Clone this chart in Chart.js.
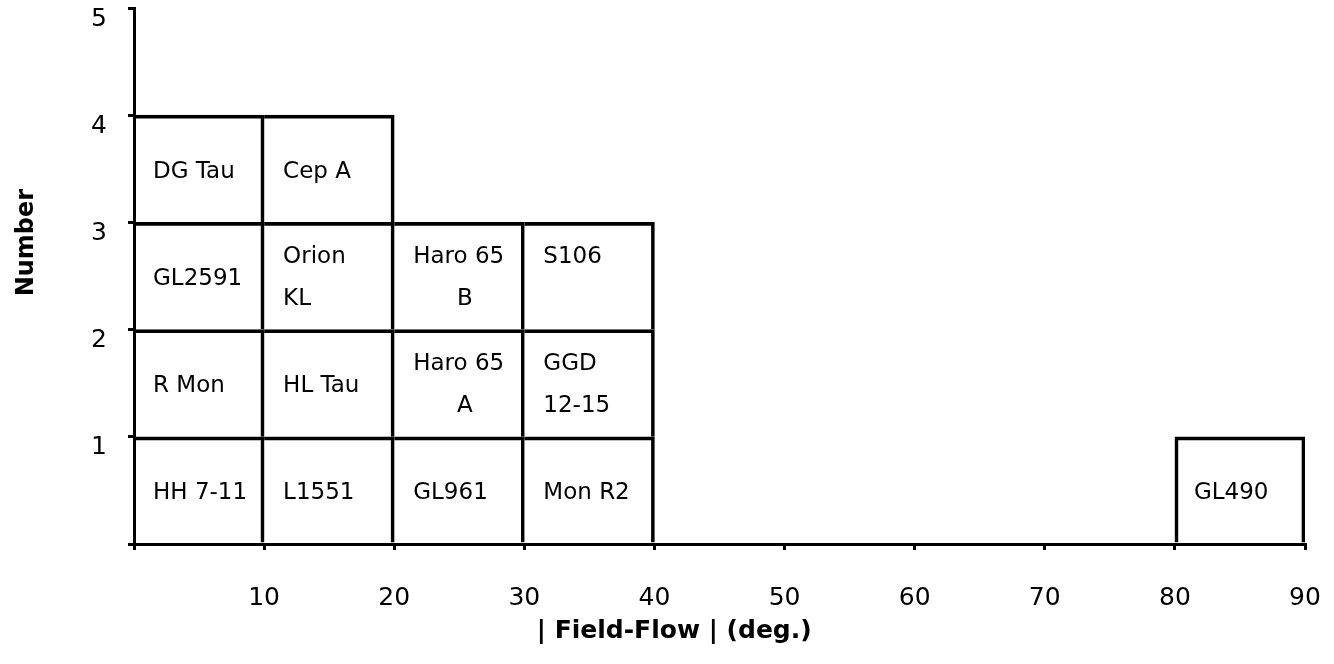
<!DOCTYPE html>
<html>
<head>
<meta charset="utf-8">
<script src="https://cdn.jsdelivr.net/npm/chart.js@4/dist/chart.umd.min.js"></script>
<style>
  html, body { margin: 0; padding: 0; background: #fff; }
  #wrap { width: 1334px; height: 664px; }
</style>
</head>
<body>
<div id="wrap"><canvas id="hist"></canvas></div>
<script>
// bins of |field - flow| angle, in degrees
const binStart = [0, 10, 20, 30, 80];
const binWidth = 10;
// objects in each bin, bottom to top
const binObjects = [
  ['HH 7-11', 'R Mon', 'GL2591', 'DG Tau'],
  ['L1551', 'HL Tau', 'Orion\nKL', 'Cep A'],
  ['GL961', 'Haro 65\n      A', 'Haro 65\n      B'],
  ['Mon R2', 'GGD\n12-15', 'S106\n'],
  ['GL490']
];
const xTickValues = [10, 20, 30, 40, 50, 60, 70, 80, 90];
const yTickValues = [1, 2, 3, 4, 5];

const FONT = '"DejaVu Sans", sans-serif';
const LINE = 3;
const maxLevel = Math.max(...binObjects.map(b => b.length));

const datasets = [];
for (let level = 0; level < maxLevel; level++) {
  const pts = [];
  binObjects.forEach((objs, i) => {
    if (objs.length > level) pts.push({ x: binStart[i] + binWidth / 2, y: 1, bin: i });
  });
  datasets.push({
    label: 'level ' + (level + 1),
    data: pts,
    backgroundColor: 'rgba(0,0,0,0)',
    borderColor: '#000',
    // only top/right edges (plus left edge when nothing sits next to it) so shared edges stay single
    borderWidth: ctx => {
      const i = ctx.raw ? ctx.raw.bin : 0;
      let left = 0;
      if (binStart[i] !== 0) {
        const prev = binStart.indexOf(binStart[i] - binWidth);
        if (prev < 0 || binObjects[prev].length <= level) left = LINE;
      }
      return { top: LINE, right: LINE, bottom: 0, left: left };
    },
    borderSkipped: false,
    barPercentage: 1,
    categoryPercentage: 1
  });
}

const cellLabels = {
  id: 'cellLabels',
  afterDatasetsDraw(chart) {
    const ctx = chart.ctx;
    ctx.save();
    ctx.font = '23px ' + FONT;
    ctx.fillStyle = '#000';
    ctx.textAlign = 'left';
    ctx.textBaseline = 'middle';
    chart.data.datasets.forEach((ds, level) => {
      const meta = chart.getDatasetMeta(level);
      meta.data.forEach((bar, j) => {
        const name = binObjects[ds.data[j].bin][level];
        const lines = name.split('\n');
        const cy = (bar.y + bar.base) / 2;
        const left = bar.x - bar.width / 2 + 19;
        if (lines.length === 1) {
          ctx.fillText(lines[0], left, cy + 3);
        } else {
          ctx.fillText(lines[0], left, cy - 19);
          ctx.fillText(lines[1], left, cy + 23);
        }
      });
    });
    ctx.restore();
  }
};

new Chart(document.getElementById('hist'), {
  type: 'bar',
  data: { datasets: datasets },
  options: {
    responsive: true,
    maintainAspectRatio: false,
    animation: false,
    layout: { padding: { top: 8, right: 29, left: 0, bottom: 0 } },
    plugins: {
      legend: { display: false },
      tooltip: { enabled: false },
      title: {
        display: true,
        position: 'bottom',
        text: '     | Field-Flow | (deg.)',
        color: '#000',
        font: { size: 25, weight: 'bold', family: FONT },
        padding: { top: 0, bottom: 18 }
      }
    },
    scales: {
      x: {
        type: 'linear',
        min: 0,
        max: 90,
        stacked: true,
        offset: false,
        ticks: {
          stepSize: 10,
          autoSkip: false,
          maxRotation: 0,
          padding: 33,
          color: '#000',
          font: { size: 25, family: FONT },
          callback: v => xTickValues.includes(v) ? String(v) : ''
        },
        grid: { offset: false, drawOnChartArea: false, drawTicks: true, tickLength: 6, color: '#000', lineWidth: LINE },
        border: { display: true, color: '#000', width: LINE },
        afterFit(s) { s.height = 72; s.paddingLeft = 0; s.paddingRight = 0; }
      },
      y: {
        stacked: true,
        min: 0,
        max: 5,
        ticks: {
          stepSize: 1,
          padding: 21,
          labelOffset: 11,
          color: '#000',
          font: { size: 25, family: FONT },
          callback: v => yTickValues.includes(v) ? String(v) : ''
        },
        grid: { drawOnChartArea: false, drawTicks: true, tickLength: 6, color: '#000', lineWidth: LINE },
        border: { display: true, color: '#000', width: LINE },
        title: {
          display: true,
          text: '        Number',
          color: '#000',
          font: { size: 24, weight: 'bold', family: FONT },
          padding: { top: 12, bottom: 0 }
        },
        afterFit(s) { s.width = 134; s.paddingTop = 0; s.paddingBottom = 0; }
      }
    }
  },
  plugins: [cellLabels]
});
</script>
</body>
</html>
